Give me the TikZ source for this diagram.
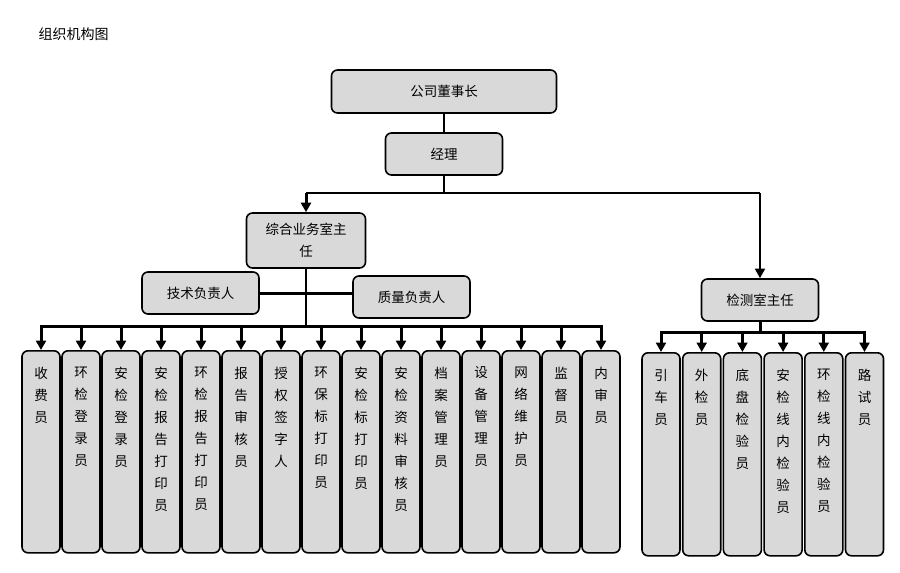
\documentclass[tikz,border=0pt]{standalone}
\usepackage{fontspec}
\setmainfont{Noto Sans CJK SC}
\usetikzlibrary{arrows.meta, positioning}
\definecolor{boxgray}{RGB}{217,217,217}

% vertical text, top aligned in a tall box
\newcommand{\coltext}[1]{\parbox[c][170pt][t]{20pt}{\centering\fontsize{13.5pt}{22pt}\selectfont #1}}

\begin{document}
\begin{tikzpicture}[
    x=1pt, y=1pt,
    block/.style={
        draw,
        line width=1.6pt,
        rounded corners=6pt,
        fill=boxgray,
        minimum width=117pt,
        minimum height=42pt,
        align=center,
        font=\fontsize{13.5pt}{22pt}\selectfont
    },
    column/.style={
        draw,
        line width=1.6pt,
        rounded corners=6pt,
        fill=boxgray,
        minimum width=38pt,
        minimum height=202pt,
        inner sep=0pt,
        anchor=north
    },
    link/.style={line width=1.4pt},
    bus/.style={line width=3pt, line cap=rect},
    arrow/.style={-{Triangle[width=10pt,length=9.5pt]}, line width=3pt}
]
\useasboundingbox (0,0) rectangle (900,-573);

\node[anchor=west, font=\fontsize{14pt}{16pt}\selectfont] (title) at (35,-34) {组织机构图};

\node[block, minimum width=225pt, minimum height=43pt] (board) at (444,-91.5) {公司董事长};
\node[block] (mgr) at (444,-154) {经理};
\node[block, minimum width=119pt, minimum height=55pt] (office) at (306,-240.5) {综合业务室主\\任};
\node[block] (tech) at (200.5,-293) {技术负责人};
\node[block] (qual) at (411.5,-297) {质量负责人};
\node[block] (lab) at (760,-300) {检测室主任};

\coordinate (split) at (444,-193);
\coordinate (lowbus) at (306,-326);
\coordinate (rightbus) at (760,-332);

% lower left columns
\foreach \txt [count=\i] in {收\\费\\员, 环\\检\\登\\录\\员, 安\\检\\登\\录\\员,
    安\\检\\报\\告\\打\\印\\员, 环\\检\\报\\告\\打\\印\\员, 报\\告\\审\\核\\员,
    授\\权\\签\\字\\人, 环\\保\\标\\打\\印\\员, 安\\检\\标\\打\\印\\员,
    安\\检\\资\\料\\审\\核\\员, 档\\案\\管\\理\\员, 设\\备\\管\\理\\员,
    网\\络\\维\\护\\员, 监\\督\\员, 内\\审\\员}
    \node[column] (c\i) at ({41+40*(\i-1)},-350) {\coltext{\txt}};

% lower right columns
\foreach \txt [count=\i] in {引\\车\\员, 外\\检\\员, 底\\盘\\检\\验\\员,
    安\\检\\线\\内\\检\\验\\员, 环\\检\\线\\内\\检\\验\\员, 路\\试\\员}
    \node[column, minimum height=203pt] (d\i) at ({661+40.7*(\i-1)},-352) {\coltext{\txt}};

\draw[link] (board) -- (mgr);
\draw[link] (mgr) -- (split);
\draw[link] (office |- split) -- (lab |- split);
\draw[arrow] (office |- split) -- (office.north);
\draw[arrow, line width=1.6pt] (lab |- split) -- (lab.north);

\draw[line width=3pt] (tech.east) -- (qual.west |- tech.east);
\draw[link] (office) -- (lowbus);
\draw[bus] (c1 |- lowbus) -- (c15 |- lowbus);
\foreach \i in {1,...,15}
    \draw[arrow] (c\i |- lowbus) -- (c\i.north);

\draw[bus] (lab) -- (rightbus);
\draw[bus] (d1 |- rightbus) -- (d6 |- rightbus);
\foreach \i in {1,...,6}
    \draw[arrow] (d\i |- rightbus) -- (d\i.north);
\end{tikzpicture}
\end{document}
